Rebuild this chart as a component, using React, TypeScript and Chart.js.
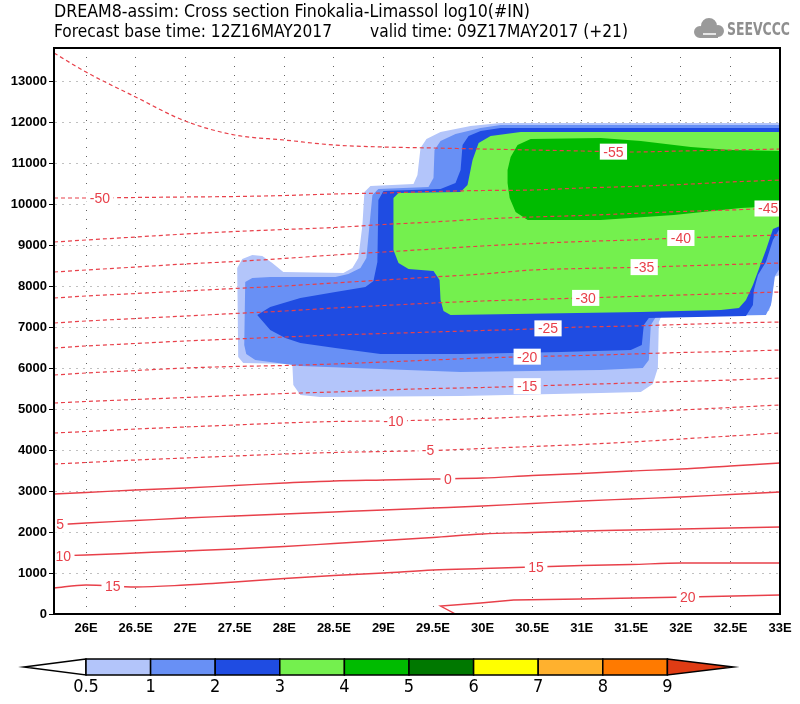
import React, { useEffect, useRef } from 'react';
import { Chart, registerables } from 'chart.js';

Chart.register(...registerables);

// ---------- axes ----------
const lonMin = 25.677;
const lonMax = 33;
const altMin = 0;
const altMax = 13805;
const altTicks = [0, 1000, 2000, 3000, 4000, 5000, 6000, 7000, 8000, 9000, 10000, 11000, 12000, 13000];
const lonTicks = [26, 26.5, 27, 27.5, 28, 28.5, 29, 29.5, 30, 30.5, 31, 31.5, 32, 32.5, 33];

// ---------- temperature isolines (common longitude grid) ----------
const lonGrid = [25.677, 26, 26.5, 27, 27.5, 28, 28.5, 29, 29.5, 30, 30.5, 31, 31.5, 32, 32.5, 33];
const tM55 = [13683, 13219, 12610, 12024, 11683, 11561, 11439, 11390, 11366, 11341, 11317, 11293, 11268, 11293, 11317, 11341];
const tM50 = [10146, 10146, 10159, 10171, 10183, 10207, 10244, 10268, 10305, 10329, 10341, 10390, 10427, 10476, 10537, 10585];
const tM45 = [9073, 9122, 9195, 9268, 9329, 9378, 9427, 9500, 9561, 9634, 9683, 9720, 9768, 9817, 9854, 9902];
const tM40 = [8341, 8390, 8463, 8537, 8598, 8671, 8756, 8829, 8902, 8976, 9036, 9085, 9122, 9171, 9207, 9244];
const tM35 = [7707, 7756, 7817, 7878, 7939, 8000, 8073, 8146, 8219, 8293, 8390, 8427, 8451, 8488, 8524, 8561];
const tM30 = [7097, 7146, 7207, 7268, 7329, 7390, 7463, 7524, 7585, 7634, 7671, 7707, 7744, 7780, 7817, 7854];
const tM25 = [6488, 6537, 6598, 6659, 6707, 6756, 6805, 6841, 6878, 6915, 6951, 7000, 7024, 7061, 7097, 7122];
const tM20 = [5829, 5878, 5939, 6000, 6037, 6061, 6098, 6146, 6195, 6244, 6280, 6305, 6341, 6378, 6402, 6439];
const tM15 = [5146, 5183, 5232, 5280, 5329, 5378, 5415, 5463, 5500, 5524, 5561, 5598, 5634, 5671, 5707, 5756];
const tM10 = [4415, 4451, 4512, 4561, 4610, 4659, 4695, 4707, 4732, 4768, 4817, 4866, 4915, 4976, 5037, 5098];
const tM5 = [3659, 3695, 3756, 3805, 3854, 3902, 3939, 3963, 3988, 4037, 4085, 4134, 4195, 4268, 4341, 4415];
const tP0 = [2927, 2963, 3024, 3073, 3134, 3195, 3244, 3268, 3293, 3317, 3378, 3427, 3488, 3537, 3610, 3683];
const tP5 = [2171, 2220, 2280, 2341, 2390, 2439, 2488, 2537, 2585, 2634, 2695, 2756, 2805, 2854, 2915, 2976];
const tP10 = [1415, 1439, 1488, 1537, 1585, 1646, 1720, 1793, 1866, 1951, 1988, 2024, 2049, 2073, 2098, 2122];
const tP15 = [634, 707, 659, 707, 780, 866, 939, 1000, 1073, 1110, 1146, 1183, 1207, 1244, 1244, 1244];
// the +20 isoline only exists in the east
const tP20Lon = [29.727, 29.576, 29.98, 30.313, 30.99, 32.071, 33];
const tP20Alt = [0, 195, 268, 341, 366, 415, 463];

// label positions (longitude) for each isoline
const isoLines = [
  { level: -55, lons: lonGrid, alts: tM55, labelLons: [31.32] },
  { level: -50, lons: lonGrid, alts: tM50, labelLons: [26.14] },
  { level: -45, lons: lonGrid, alts: tM45, labelLons: [32.88] },
  { level: -40, lons: lonGrid, alts: tM40, labelLons: [32.0] },
  { level: -35, lons: lonGrid, alts: tM35, labelLons: [31.63] },
  { level: -30, lons: lonGrid, alts: tM30, labelLons: [31.04] },
  { level: -25, lons: lonGrid, alts: tM25, labelLons: [30.66] },
  { level: -20, lons: lonGrid, alts: tM20, labelLons: [30.45] },
  { level: -15, lons: lonGrid, alts: tM15, labelLons: [30.45] },
  { level: -10, lons: lonGrid, alts: tM10, labelLons: [29.1] },
  { level: -5, lons: lonGrid, alts: tM5, labelLons: [29.45] },
  { level: 0, lons: lonGrid, alts: tP0, labelLons: [29.65] },
  { level: 5, lons: lonGrid, alts: tP5, labelLons: [25.74] },
  { level: 10, lons: lonGrid, alts: tP10, labelLons: [25.77] },
  { level: 15, lons: lonGrid, alts: tP15, labelLons: [26.27, 30.54] },
  { level: 20, lons: tP20Lon, alts: tP20Alt, labelLons: [32.07] },
];

// ---------- log10(#IN) shaded regions [lon, alt] ----------
const area05 = [[27.525, 8439], [27.576, 8658], [27.677, 8756], [27.778, 8732], [27.879, 8561], [27.99, 8341], [28.596, 8317], [28.687, 8439], [28.747, 8683], [28.788, 9488], [28.808, 10293], [28.869, 10439], [29.303, 10488], [29.343, 10707], [29.374, 11366], [29.434, 11585], [29.576, 11756], [29.879, 11902], [30.182, 11975], [33, 11975], [33, 8268], [32.939, 8219], [32.919, 7658], [32.889, 7390], [31.818, 7341], [31.778, 7122], [31.768, 6000], [31.717, 5610], [31.596, 5415], [31.192, 5390], [29.778, 5317], [28.363, 5293], [28.162, 5341], [28.091, 5585], [28.081, 6098], [27.586, 6122], [27.535, 6268]];
const area1 = [[27.606, 8097], [27.677, 8195], [27.858, 8219], [28.515, 8219], [28.646, 8293], [28.768, 8439], [28.828, 8683], [28.869, 9732], [28.889, 10219], [28.949, 10366], [29.454, 10415], [29.505, 10634], [29.515, 11317], [29.576, 11536], [29.727, 11707], [29.98, 11854], [30.182, 11927], [33, 11927], [33, 8439], [32.949, 8244], [32.909, 7537], [32.858, 7293], [31.747, 7244], [31.697, 7049], [31.677, 6195], [31.616, 6000], [31.192, 5951], [29.778, 5902], [28.162, 6049], [27.858, 6146], [27.707, 6195], [27.616, 6341], [27.596, 6561]];
const area2 = [[27.727, 7293], [27.858, 7488], [28.162, 7707], [28.515, 7854], [28.818, 7976], [28.899, 8122], [28.939, 8585], [28.949, 10098], [29.0, 10317], [29.576, 10366], [29.727, 10512], [29.778, 10829], [29.798, 11439], [29.859, 11659], [29.98, 11780], [30.182, 11854], [33, 11854], [33, 9415], [32.929, 9122], [32.858, 8585], [32.778, 8268], [32.737, 7902], [32.727, 7537], [32.657, 7268], [31.677, 7220], [31.626, 7049], [31.606, 6561], [31.495, 6439], [30.788, 6390], [29.778, 6341], [28.97, 6341], [28.515, 6488], [28.162, 6610], [28.01, 6732], [27.858, 6927]];
const area3 = [[29.101, 10146], [29.152, 10268], [29.778, 10293], [29.848, 10463], [29.899, 11073], [29.96, 11488], [30.081, 11659], [30.384, 11756], [33, 11756], [33, 9463], [32.929, 9390], [32.858, 8878], [32.727, 8024], [32.657, 7658], [32.586, 7463], [32.404, 7415], [31.596, 7366], [29.677, 7293], [29.606, 7390], [29.576, 7658], [29.566, 8146], [29.505, 8366], [29.253, 8415], [29.152, 8561], [29.101, 8878]];
const area4 = [[30.252, 10512], [30.252, 10829], [30.283, 11146], [30.353, 11439], [30.485, 11585], [31.192, 11610], [31.596, 11536], [32.101, 11390], [32.505, 11317], [33, 11293], [33, 9951], [32.606, 9902], [31.929, 9732], [31.192, 9610], [30.455, 9610], [30.333, 9805], [30.273, 10146]];

// ---------- colour scale ----------
const barLabels = ['0.5', '1', '2', '3', '4', '5', '6', '7', '8', '9'];
const barColors = ['#b3c5fa', '#6890f5', '#1f4ce2', '#74f04e', '#00bb00', '#007800', '#ffff00', '#ffb12e', '#ff7a00'];
const overColor = '#e03c14';

const titleLine1 = 'DREAM8-assim: Cross section Finokalia-Limassol log10(#IN)';
const titleLine2a = 'Forecast base time: 12Z16MAY2017';
const titleLine2b = 'valid time: 09Z17MAY2017 (+21)';
const logoText = 'SEEVCCC';

const RED = '#e8404a';

function interpAlt(lons: number[], alts: number[], lon: number): number {
  for (let i = 0; i < lons.length - 1; i++) {
    const a = lons[i], b = lons[i + 1];
    if ((lon >= a && lon <= b) || (lon <= a && lon >= b)) {
      const t = b === a ? 0 : (lon - a) / (b - a);
      return alts[i] + t * (alts[i + 1] - alts[i]);
    }
  }
  return alts[lon < lons[0] ? 0 : alts.length - 1];
}

function drawStretched(ctx: CanvasRenderingContext2D, text: string, x: number, y: number, width: number, font: string, color: string) {
  ctx.save();
  ctx.font = font;
  const w = ctx.measureText(text).width;
  ctx.translate(x, y);
  ctx.scale(width / w, 1);
  ctx.fillStyle = color;
  ctx.textAlign = 'left';
  ctx.textBaseline = 'middle';
  ctx.fillText(text, 0, 0);
  ctx.restore();
}

const labelsPlugin = {
  id: 'isoLabels',
  afterDatasetsDraw(chart: any) {
    const { ctx } = chart;
    const xs = chart.scales.x;
    const ys = chart.scales.y;
    ctx.save();
    ctx.font = '14px "Liberation Sans", Arial, sans-serif';
    ctx.textAlign = 'center';
    ctx.textBaseline = 'middle';
    for (const line of isoLines) {
      for (const lon of line.labelLons) {
        const alt = interpAlt(line.lons, line.alts, lon);
        const px = xs.getPixelForValue(lon);
        const py = ys.getPixelForValue(alt);
        const text = String(line.level);
        const w = ctx.measureText(text).width + 7;
        ctx.fillStyle = '#ffffff';
        ctx.fillRect(px - w / 2, py - 8, w, 16);
        ctx.fillStyle = RED;
        ctx.fillText(text, px, py + 1);
      }
    }
    ctx.restore();
  },
};

const decorPlugin = {
  id: 'decor',
  afterDraw(chart: any) {
    const { ctx, chartArea } = chart;
    ctx.save();
    // frame
    ctx.strokeStyle = '#000';
    ctx.lineWidth = 2;
    ctx.strokeRect(chartArea.left, chartArea.top, chartArea.right - chartArea.left, chartArea.bottom - chartArea.top);

    // titles
    const tFont = '17px "Liberation Sans Narrow", "DejaVu Sans Condensed", Arial, sans-serif';
    drawStretched(ctx, titleLine1, 54, 13, 476, tFont, '#000');
    drawStretched(ctx, titleLine2a, 54, 33, 278, tFont, '#000');
    drawStretched(ctx, titleLine2b, 370, 33, 258, tFont, '#000');

    // logo: cloud + text
    ctx.fillStyle = '#9a9a9a';
    ctx.beginPath();
    ctx.arc(700, 32, 6, 0, Math.PI * 2);
    ctx.arc(709, 26, 8, 0, Math.PI * 2);
    ctx.arc(718, 31, 6, 0, Math.PI * 2);
    ctx.fill();
    ctx.fillRect(700, 30, 18, 8);
    ctx.strokeStyle = '#ffffff';
    ctx.lineWidth = 1.5;
    ctx.beginPath();
    ctx.moveTo(703, 34);
    ctx.lineTo(716, 34);
    ctx.stroke();
    drawStretched(ctx, logoText, 727, 30, 63, 'bold 18px "Liberation Sans Narrow", "DejaVu Sans Condensed", Arial, sans-serif', '#8f8f8f');

    // colour bar
    const top = 659, bot = 675, mid = (top + bot) / 2;
    const x0 = 86, bw = 64.6, n = barColors.length;
    ctx.lineWidth = 1.5;
    ctx.strokeStyle = '#000';
    ctx.beginPath();
    ctx.moveTo(x0, top);
    ctx.lineTo(24, mid);
    ctx.lineTo(x0, bot);
    ctx.closePath();
    ctx.fillStyle = '#ffffff';
    ctx.fill();
    ctx.stroke();
    for (let i = 0; i < n; i++) {
      ctx.fillStyle = barColors[i];
      ctx.fillRect(x0 + i * bw, top, bw, bot - top);
      ctx.strokeRect(x0 + i * bw, top, bw, bot - top);
    }
    const xe = x0 + n * bw;
    ctx.beginPath();
    ctx.moveTo(xe, top);
    ctx.lineTo(xe + 66, mid);
    ctx.lineTo(xe, bot);
    ctx.closePath();
    ctx.fillStyle = overColor;
    ctx.fill();
    ctx.stroke();
    ctx.fillStyle = '#000';
    ctx.font = '18px "Liberation Sans Narrow", "DejaVu Sans Condensed", Arial, sans-serif';
    ctx.textAlign = 'center';
    ctx.textBaseline = 'middle';
    barLabels.forEach((lab, i) => {
      ctx.fillText(lab, x0 + i * bw, 687);
    });
    ctx.restore();
  },
};

function polygonDataset(points: number[][], color: string, order: number) {
  const pts = points.map((p) => ({ x: p[0], y: p[1] }));
  pts.push({ x: points[0][0], y: points[0][1] });
  return {
    data: pts,
    backgroundColor: color,
    borderColor: 'rgba(0,0,0,0)',
    borderWidth: 0,
    pointRadius: 0,
    fill: 'shape',
    tension: 0,
    order,
  };
}

function isoDataset(lons: number[], alts: number[], level: number, monotone: boolean) {
  return {
    data: lons.map((lon, i) => ({ x: lon, y: alts[i] })),
    borderColor: RED,
    borderWidth: level < 0 ? 1.2 : 1.4,
    borderDash: level < 0 ? [4, 3] : [],
    pointRadius: 0,
    fill: false,
    tension: 0,
    cubicInterpolationMode: monotone ? 'monotone' : 'default',
    order: 1,
  };
}

export default function App() {
  const ref = useRef<HTMLCanvasElement | null>(null);

  useEffect(() => {
    if (!ref.current) return;
    const datasets: any[] = [
      polygonDataset(area05, barColors[0], 14),
      polygonDataset(area1, barColors[1], 13),
      polygonDataset(area2, barColors[2], 12),
      polygonDataset(area3, barColors[3], 11),
      polygonDataset(area4, barColors[4], 10),
    ];
    for (const line of isoLines) {
      datasets.push(isoDataset(line.lons, line.alts, line.level, line.lons === lonGrid));
    }
    const tickFont = { family: '"Liberation Sans", Arial, sans-serif', size: 13, weight: 'bold' as const };
    const chart = new Chart(ref.current, {
      type: 'line',
      data: { datasets },
      options: {
        animation: false,
        responsive: false,
        events: [],
        layout: { padding: { top: 48, right: 20, left: 0, bottom: 0 } },
        plugins: { legend: { display: false }, tooltip: { enabled: false } },
        scales: {
          x: {
            type: 'linear',
            min: lonMin,
            max: lonMax,
            afterFit: (s: any) => { s.height = 90; },
            afterBuildTicks: (s: any) => { s.ticks = lonTicks.map((v) => ({ value: v })); },
            ticks: {
              autoSkip: false,
              maxRotation: 0,
              padding: 7,
              color: '#000',
              font: tickFont,
              callback: (v: any) => `${Number(v)}E`,
            },
            grid: { color: 'rgba(70,70,70,0.85)', lineWidth: 1, drawTicks: false },
            border: { display: true, color: '#000', width: 2, dash: [1, 8] },
          },
          y: {
            type: 'linear',
            min: altMin,
            max: altMax,
            afterFit: (s: any) => { s.width = 54; },
            afterBuildTicks: (s: any) => { s.ticks = altTicks.map((v) => ({ value: v })); },
            ticks: {
              autoSkip: false,
              padding: 2,
              color: '#000',
              font: tickFont,
              callback: (v: any) => String(v),
            },
            grid: { color: 'rgba(185,185,185,0.9)', lineWidth: 1, drawTicks: true, tickLength: 5, tickColor: '#000' },
            border: { display: true, color: '#000', width: 2, dash: [2, 5] },
          },
        },
      },
      plugins: [labelsPlugin, decorPlugin],
    } as any);
    return () => chart.destroy();
  }, []);

  return (
    <div style={{ position: 'absolute', left: 0, top: 0, width: 800, height: 704, background: '#fff' }}>
      <canvas ref={ref} width={800} height={704} />
    </div>
  );
}
